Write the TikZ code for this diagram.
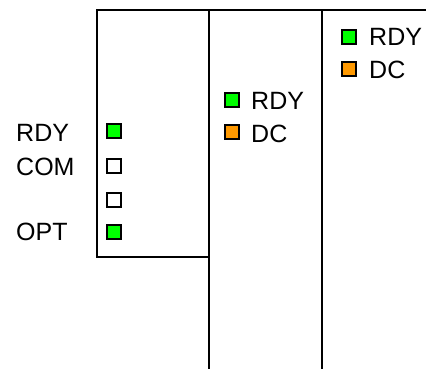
\documentclass[tikz,border=0pt]{standalone}
\usepackage{fontspec}
\setmainfont{Liberation Sans}
\definecolor{ledgreen}{RGB}{0,255,0}
\definecolor{ledorange}{RGB}{255,153,0}
\tikzset{
  x=1pt,y=-1pt,
  frame/.style={line width=2.5pt,line cap=rect},
  led/.style={draw=black,line width=2.5pt,minimum size=14pt,inner sep=0pt,anchor=center},
  lbl/.style={font=\fontsize{25}{29}\selectfont,inner sep=0pt,anchor=base west}
}
\begin{document}
\begin{tikzpicture}
\useasboundingbox (0,0) rectangle (426,369);
% frame
\coordinate (tl) at (97,10);
\coordinate (tr) at (426,10);
\coordinate (bl) at (97,257);
\coordinate (br) at (209,257);
\coordinate (m1t) at (209,10);
\coordinate (m1b) at (209,369);
\coordinate (m2t) at (322,10);
\coordinate (m2b) at (322,369);
\draw[frame] (bl) -- (tl) -- (tr);
\draw[frame] (bl) -- (br);
\draw[frame] (m1t) -- (m1b);
\draw[frame] (m2t) -- (m2b);
% left column LEDs
\node[led,fill=ledgreen] (l1) at (114,131) {};
\node[led,fill=white] (l2) at (114,166) {};
\node[led,fill=white] (l3) at (114,200) {};
\node[led,fill=ledgreen] (l4) at (114,232) {};
\node[lbl] (t1) at (16,141) {RDY};
\node[lbl] (t2) at (16,175) {COM};
\node[lbl] (t4) at (16,240) {OPT};
% middle column
\node[led,fill=ledgreen] (m1) at (232,100) {};
\node[led,fill=ledorange] (m2) at (232,132) {};
\node[lbl] (mt1) at (251,110) {RDY};
\node[lbl] (mt2) at (251,142) {DC};
% right column
\node[led,fill=ledgreen] (r1) at (349,37) {};
\node[led,fill=ledorange] (r2) at (349,69) {};
\node[lbl] (rt1) at (369,46) {RDY};
\node[lbl] (rt2) at (369,78) {DC};
\end{tikzpicture}
\end{document}
